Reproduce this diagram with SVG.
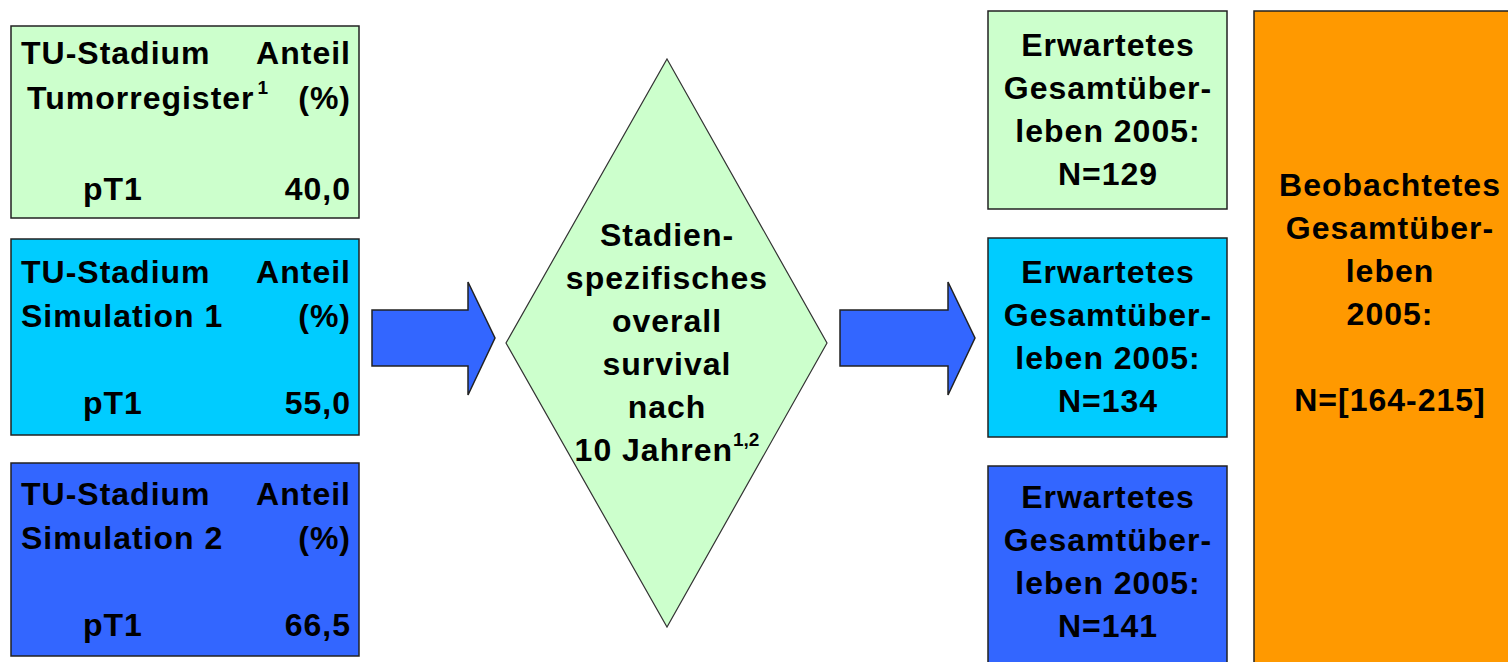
<svg xmlns="http://www.w3.org/2000/svg" width="1508" height="662" viewBox="0 0 1508 662">
<style>
.box{stroke:#222;stroke-width:1.5}
.g{fill:#CCFFCC}.c{fill:#00CCFF}.b{fill:#3366FF}.o{fill:#FF9900}
text{font-family:"Liberation Sans",Arial,sans-serif;font-weight:bold;font-size:32px;fill:#000;letter-spacing:1px}
.m{text-anchor:middle}.e{text-anchor:end}
.sup{font-size:19px;letter-spacing:0}
</style>
<rect width="1508" height="662" fill="#fff"/>
<g id="box-register">
<rect class="box g" x="11" y="26" width="348" height="192"/>
<text x="21" y="64">TU-Stadium</text><text class="e" x="351" y="64">Anteil</text>
<text x="27" y="109">Tumorregister<tspan class="sup" dx="3" dy="-15">1</tspan></text><text class="e" x="351" y="109">(%)</text>
<text x="83" y="200">pT1</text><text class="e" x="351" y="200">40,0</text>
</g>
<g id="box-sim1">
<rect class="box c" x="11" y="239" width="348" height="196"/>
<text x="21" y="283">TU-Stadium</text><text class="e" x="351" y="283">Anteil</text>
<text x="21" y="327">Simulation 1</text><text class="e" x="351" y="327">(%)</text>
<text x="83" y="414">pT1</text><text class="e" x="351" y="414">55,0</text>
</g>
<g id="box-sim2">
<rect class="box b" x="11" y="463" width="348" height="193"/>
<text x="21" y="505">TU-Stadium</text><text class="e" x="351" y="505">Anteil</text>
<text x="21" y="549">Simulation 2</text><text class="e" x="351" y="549">(%)</text>
<text x="83" y="636">pT1</text><text class="e" x="351" y="636">66,5</text>
</g>
<g id="connectors">
<polygon class="box b" points="372,310 468,310 468,282 495,338 468,395 468,366 372,366"/>
<polygon class="box b" points="840,310 948,310 948,282 975,338 948,395 948,366 840,366"/>
</g>
<g id="diamond">
<polygon fill="#CCFFCC" stroke="#333" stroke-width="1.2" points="667,59 827,343 667,627 506,343"/>
<text class="m" x="667" y="246">Stadien-</text>
<text class="m" x="667" y="289">spezifisches</text>
<text class="m" x="667" y="332">overall</text>
<text class="m" x="667" y="375">survival</text>
<text class="m" x="667" y="418">nach</text>
<text class="m" x="667" y="461">10 Jahren<tspan class="sup" dy="-15">1,2</tspan></text>
</g>
<g id="expected-register">
<rect class="box g" x="988" y="11" width="239" height="198"/>
<text class="m" x="1108" y="56">Erwartetes</text>
<text class="m" x="1108" y="99">Gesamtüber-</text>
<text class="m" x="1108" y="142">leben 2005:</text>
<text class="m" x="1108" y="185">N=129</text>
</g>
<g id="expected-sim1">
<rect class="box c" x="988" y="238" width="239" height="199"/>
<text class="m" x="1108" y="283">Erwartetes</text>
<text class="m" x="1108" y="326">Gesamtüber-</text>
<text class="m" x="1108" y="369">leben 2005:</text>
<text class="m" x="1108" y="412">N=134</text>
</g>
<g id="expected-sim2">
<rect class="box b" x="988" y="466" width="239" height="210"/>
<text class="m" x="1108" y="508">Erwartetes</text>
<text class="m" x="1108" y="551">Gesamtüber-</text>
<text class="m" x="1108" y="594">leben 2005:</text>
<text class="m" x="1108" y="637">N=141</text>
</g>
<g id="observed">
<rect class="box o" x="1254" y="11" width="270" height="670"/>
<text class="m" x="1390" y="196">Beobachtetes</text>
<text class="m" x="1390" y="239">Gesamtüber-</text>
<text class="m" x="1390" y="282">leben</text>
<text class="m" x="1390" y="325">2005:</text>
<text class="m" x="1390" y="411">N=[164-215]</text>
</g>
</svg>
